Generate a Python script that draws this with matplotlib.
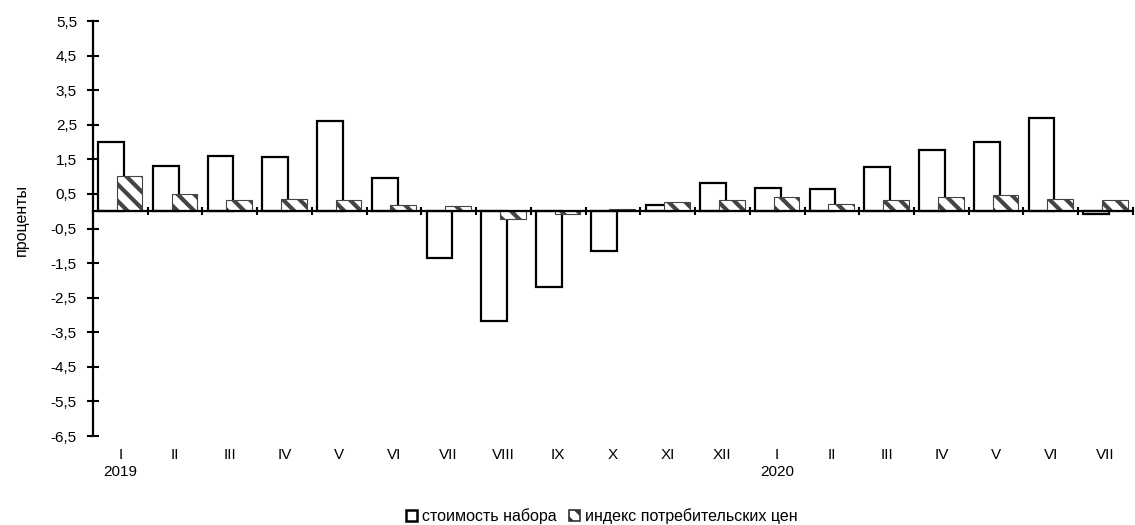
import numpy as np
import matplotlib.pyplot as plt
import matplotlib.transforms as mtransforms
from matplotlib.patches import Patch

plt.rcParams['font.family'] = ['Liberation Sans', 'DejaVu Sans']
plt.rcParams['hatch.linewidth'] = 3.0
plt.rcParams['hatch.color'] = '#333333'

# month labels and years
months = ['I', 'II', 'III', 'IV', 'V', 'VI', 'VII', 'VIII', 'IX', 'X', 'XI', 'XII',
          'I', 'II', 'III', 'IV', 'V', 'VI', 'VII']
years = {0: '2019', 12: '2020'}

# стоимость набора (white bars)
basket = [2.0, 1.3, 1.6, 1.58, 2.6, 0.96, -1.34, -3.17, -2.19, -1.16, 0.19, 0.81,
          0.68, 0.64, 1.29, 1.78, 1.99, 2.69, -0.08]
# индекс потребительских цен (hatched bars)
cpi = [1.02, 0.5, 0.32, 0.36, 0.32, 0.17, 0.15, -0.23, -0.09, 0.06, 0.27, 0.33,
       0.4, 0.2, 0.33, 0.42, 0.46, 0.34, 0.33]

x = np.arange(len(months))

fig = plt.figure(figsize=(11.35, 5.25), dpi=100)
ax = fig.add_axes([0.0819, 0.1695, 0.9163, 0.7905])

ax.bar(x - 0.17, basket, width=0.47, color='white', edgecolor='black', linewidth=1.6, zorder=1)
ax.bar(x + 0.17, cpi, width=0.47, color='white', edgecolor='#444444', linewidth=0.8,
       hatch='\\\\', zorder=1.5)

ax.set_xlim(-0.5, len(months) - 0.5)
ax.set_ylim(-6.5, 5.5)

yt = np.arange(-6.5, 5.6, 1.0)
ax.set_yticks(yt)
ax.set_yticklabels([f'{v:.1f}'.replace('.', ',') for v in yt], fontsize=11)
ax.tick_params(axis='y', direction='inout', length=9, width=1.5, pad=7)

# category boundary ticks on the zero line
ax.set_xticks(np.arange(0.5, len(months) - 0.5 + 0.01, 1.0))
ax.set_xticklabels([])
ax.tick_params(axis='x', direction='inout', length=6, width=1.5)

for s in ['top', 'right']:
    ax.spines[s].set_visible(False)
ax.spines['bottom'].set_position(('data', 0))
ax.spines['bottom'].set_linewidth(1.6)
ax.spines['left'].set_linewidth(1.6)

trans = mtransforms.blended_transform_factory(ax.transData, ax.transAxes)
for i, m in enumerate(months):
    ax.text(i, -0.045, m, transform=trans, ha='center', va='center', fontsize=11)
for i, yr in years.items():
    ax.text(i, -0.086, yr, transform=trans, ha='center', va='center', fontsize=11)

ax.set_ylabel('проценты', fontsize=11.5)
ax.yaxis.set_label_coords(-0.062, 0.52)

handles = [Patch(facecolor='white', edgecolor='black', linewidth=1.8),
           Patch(facecolor='white', edgecolor='#333333', linewidth=1.2, hatch='\\\\')]
fig.legend(handles, ['стоимость набора', 'индекс потребительских цен'],
           loc='center', bbox_to_anchor=(0.53, 0.017), ncol=2, frameon=False,
           fontsize=11.5, handlelength=0.7, handleheight=0.7, handletextpad=0.3,
           columnspacing=0.8)

fig.savefig('out.png', dpi=100)
